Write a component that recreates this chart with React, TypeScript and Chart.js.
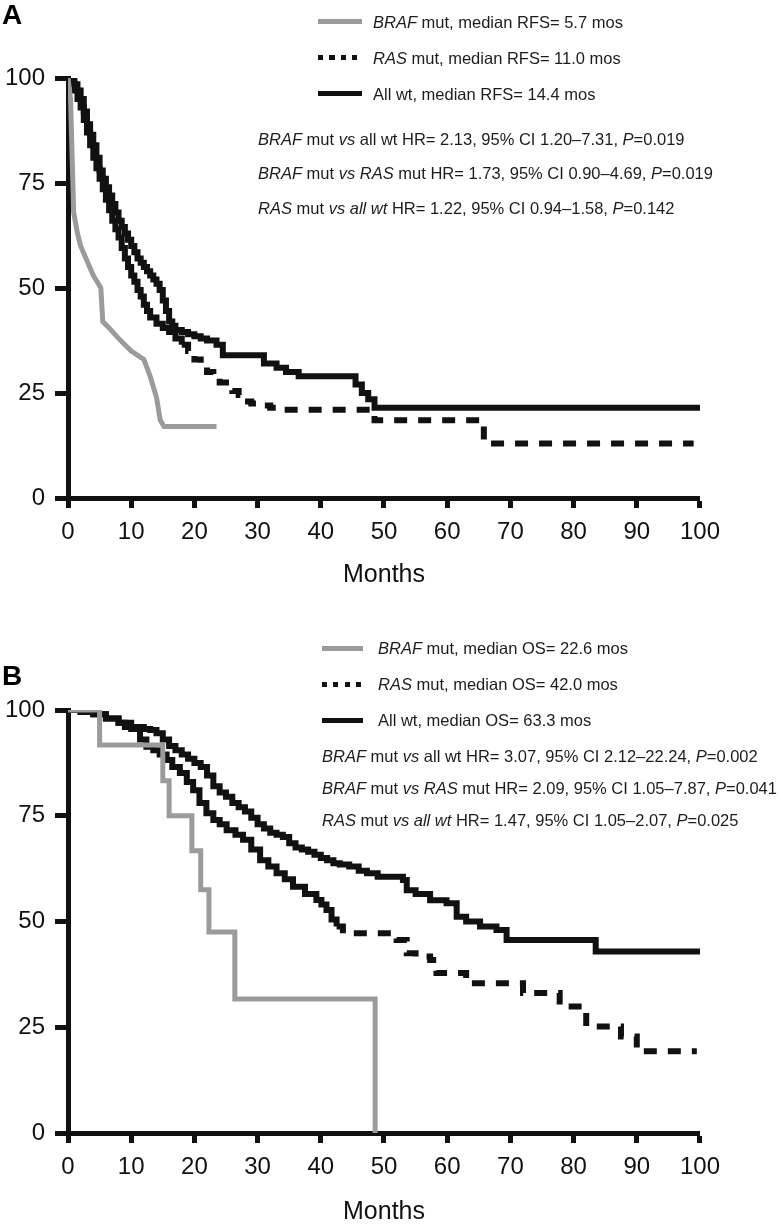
import React, { useEffect, useRef } from 'react';
import { Chart, registerables } from 'chart.js';

Chart.register(...registerables);

const FONT = '"Liberation Sans", Arial, Helvetica, sans-serif';
const GRAY = '#9b9b9b';
const INK = '#111111';

// ---------- axis ticks ----------
const monthTicks = [0, 10, 20, 30, 40, 50, 60, 70, 80, 90, 100];
const pctTicks = [0, 25, 50, 75, 100];

// ---------- Panel A: relapse-free survival ----------
const rfsBrafMonths = [0, 0.4, 0.9, 1.5, 2, 3, 4, 5.2, 5.5, 6.5, 8, 10, 12, 13, 14, 14.6, 15.2, 23.5];
const rfsBrafPct = [100, 95, 68, 63, 60, 56.5, 53, 50, 42, 40.5, 38, 35, 33, 29, 24, 18.5, 17, 17];

const rfsRasMonths = [0, 0.5, 1, 1.5, 2, 2.5, 3, 3.5, 4, 4.5, 5, 5.5, 6, 6.5, 7, 7.5, 8, 8.5, 9, 9.5, 10, 10.5, 11, 11.5, 12, 12.5, 13, 14, 15, 16, 17, 18, 19, 20, 21, 22, 23, 24, 25, 26, 27, 28, 29, 30, 32, 34, 48.5, 65.8, 99];
const rfsRasPct = [100, 99, 97, 95, 93, 90, 87, 84, 81, 78.5, 76, 73.5, 71, 68.5, 66, 64, 62, 59.5, 57, 55, 53, 51.5, 49.5, 48, 46, 44.5, 43, 41.5, 40.5, 39.5, 38, 36.5, 35, 33, 31.5, 30, 28.5, 27.5, 26.5, 25.5, 24.5, 23, 22.5, 22, 21.5, 21, 18.5, 13, 13];

const rfsWtMonths = [0, 0.5, 1, 1.5, 2, 2.5, 3, 3.5, 4, 4.5, 5, 5.5, 6, 6.5, 7, 7.5, 8, 8.5, 9, 9.5, 10, 10.5, 11, 11.5, 12, 12.5, 13, 13.5, 14, 14.5, 15, 15.5, 16, 16.5, 17, 18, 19, 20, 21, 22, 23.5, 24.5, 31, 33, 34.5, 36.5, 45.5, 46.5, 47.5, 48.5, 100];
const rfsWtPct = [100, 99.5, 98.5, 97, 95, 92, 89, 86.5, 84, 81, 78, 76, 74, 72, 70, 68, 66, 64.5, 63, 61.5, 60, 58.5, 57, 56, 55, 54, 53, 52, 51, 49.5, 47, 44.5, 42, 41, 40, 39.5, 39, 38.5, 38, 37.5, 36.5, 34, 32, 31, 30, 29, 27, 25, 23.5, 21.5, 21.5];

// ---------- Panel B: overall survival ----------
const osBrafMonths = [0, 5, 15, 16, 19.6, 21, 22.3, 26.4, 48.6];
const osBrafPct = [100, 91.7, 83.3, 75, 66.7, 57.5, 47.5, 31.7, 0];

const osRasMonths = [0, 2, 4, 6, 8, 10, 11.4, 12.4, 13.5, 14.5, 15.6, 16.5, 17.7, 18.8, 19.8, 20.8, 21.9, 23, 24, 25.1, 26.5, 27.7, 29, 30.4, 31.7, 33, 34.3, 35.6, 37.5, 39.3, 40.1, 40.9, 41.7, 42.5, 43.5, 52, 53.6, 55, 57.3, 58.3, 63, 72, 77.8, 82, 87.5, 90, 99.5];
const osRasPct = [100, 99.5, 99, 98, 97, 95.5, 93, 91.3, 90.5, 89.5, 88.2, 86.5, 85.1, 83, 81, 78, 75.6, 74, 73, 71.6, 70.5, 69.3, 67, 64.5, 63, 61.4, 60, 58.2, 56.5, 55.1, 54, 52.7, 50.5, 48.8, 47.2, 45.6, 42.5, 41.7, 40.9, 37.8, 35.4, 33.1, 29.9, 25.2, 22.8, 19.3, 19.3];

const osWtMonths = [0, 2, 4, 6, 8, 9, 12, 13, 14, 15, 16, 17, 18, 19, 20, 21, 22, 23, 24, 25, 26, 27, 28, 29, 30, 31, 32, 33, 34, 35, 36, 37, 38, 39, 40, 41, 42, 43, 44.5, 46, 47.3, 49, 53, 53.6, 55, 57.3, 59.9, 61.5, 63, 65.2, 67.8, 69.4, 83.5, 100];
const osWtPct = [100, 99.5, 99, 98, 97, 96, 95.5, 95.3, 94.5, 93, 91.5, 90.5, 89.5, 88.5, 87.5, 86.5, 84.5, 82, 80.5, 79.5, 78, 77, 76, 74.5, 73, 72, 71, 70.5, 70, 68.5, 67.5, 67, 66.5, 65.8, 65, 64.5, 63.8, 63.5, 63, 62, 61.4, 60.6, 59.8, 57.4, 56.5, 55, 54.3, 51.1, 50, 48.8, 48, 45.6, 42.9, 42.9];

// ---------- texts ----------
type Part = [string, boolean];
const rfsLegendLabels: Part[][] = [
  [['BRAF', true], [' mut, median RFS= 5.7 mos', false]],
  [['RAS', true], [' mut, median RFS= 11.0 mos', false]],
  [['All wt, median RFS= 14.4 mos', false]],
];
const rfsStatLines: Part[][] = [
  [['BRAF', true], [' mut ', false], ['vs', true], [' all wt HR= 2.13, 95% CI 1.20\u20137.31, ', false], ['P', true], ['=0.019', false]],
  [['BRAF', true], [' mut ', false], ['vs', true], [' ', false], ['RAS', true], [' mut HR= 1.73, 95% CI 0.90\u20134.69, ', false], ['P', true], ['=0.019', false]],
  [['RAS', true], [' mut ', false], ['vs all wt', true], [' HR= 1.22, 95% CI 0.94\u20131.58, ', false], ['P', true], ['=0.142', false]],
];
const osLegendLabels: Part[][] = [
  [['BRAF', true], [' mut, median OS= 22.6 mos', false]],
  [['RAS', true], [' mut, median OS= 42.0 mos', false]],
  [['All wt, median OS= 63.3 mos', false]],
];
const osStatLines: Part[][] = [
  [['BRAF', true], [' mut ', false], ['vs', true], [' all wt HR= 3.07, 95% CI 2.12\u201322.24, ', false], ['P', true], ['=0.002', false]],
  [['BRAF', true], [' mut ', false], ['vs', true], [' ', false], ['RAS', true], [' mut HR= 2.09, 95% CI 1.05\u20137.87, ', false], ['P', true], ['=0.041', false]],
  [['RAS', true], [' mut ', false], ['vs all wt', true], [' HR= 1.47, 95% CI 1.05\u20132.07, ', false], ['P', true], ['=0.025', false]],
];

function pts(xs: number[], ys: number[]) {
  return xs.map((x, i) => ({ x, y: ys[i] }));
}

interface PanelSpec {
  braf: { x: number; y: number }[];
  ras: { x: number; y: number }[];
  wt: { x: number; y: number }[];
  brafStepped: boolean;
  dashFrom: number;
  padTop: number;
  xHeight: number;
  titlePad: number;
}

function makeConfig(p: PanelSpec): any {
  const dash = [13, 11];
  return {
    type: 'line',
    data: {
      datasets: [
        {
          label: 'BRAF mut',
          data: p.braf,
          borderColor: GRAY,
          borderWidth: 5,
          stepped: p.brafStepped ? 'before' : false,
          tension: 0,
          pointRadius: 0,
          borderJoinStyle: 'miter',
        },
        {
          label: 'RAS mut',
          data: p.ras,
          borderColor: INK,
          borderWidth: 6,
          stepped: 'before',
          pointRadius: 0,
          borderCapStyle: 'butt',
          borderJoinStyle: 'miter',
          segment: {
            borderDash: (ctx: any) => (ctx.p0.parsed.x >= p.dashFrom ? dash : undefined),
          },
        },
        {
          label: 'All wt',
          data: p.wt,
          borderColor: INK,
          borderWidth: 6,
          stepped: 'before',
          pointRadius: 0,
          borderJoinStyle: 'miter',
        },
      ],
    },
    options: {
      animation: false,
      responsive: false,
      maintainAspectRatio: false,
      devicePixelRatio: 1,
      layout: { padding: { top: p.padTop, right: 30, left: 0, bottom: 0 } },
      plugins: { legend: { display: false }, tooltip: { enabled: false }, title: { display: false } },
      scales: {
        x: {
          type: 'linear',
          min: 0,
          max: 100,
          afterBuildTicks: (s: any) => {
            s.ticks = monthTicks.map((v) => ({ value: v }));
          },
          afterFit: (s: any) => {
            s.height = p.xHeight;
          },
          grid: { drawOnChartArea: false, drawTicks: true, tickLength: 10, tickWidth: 5, tickColor: INK },
          border: { display: true, width: 5, color: INK },
          ticks: { color: INK, font: { family: FONT, size: 24 }, padding: 10, maxRotation: 0, autoSkip: false },
          title: {
            display: true,
            text: 'Months',
            color: INK,
            font: { family: FONT, size: 25 },
            padding: { top: 0, bottom: p.titlePad },
          },
        },
        y: {
          type: 'linear',
          min: 0,
          max: 100,
          afterBuildTicks: (s: any) => {
            s.ticks = pctTicks.map((v) => ({ value: v }));
          },
          afterFit: (s: any) => {
            s.width = 68;
          },
          grid: { drawOnChartArea: false, drawTicks: true, tickLength: 13, tickWidth: 5, tickColor: INK },
          border: { display: true, width: 5, color: INK },
          ticks: { color: INK, font: { family: FONT, size: 24 }, padding: 10, autoSkip: false },
        },
      },
    },
  };
}

function KMCanvas({ spec, top, width, height }: { spec: PanelSpec; top: number; width: number; height: number }) {
  const ref = useRef<HTMLCanvasElement | null>(null);
  useEffect(() => {
    if (!ref.current) return;
    const chart = new Chart(ref.current, makeConfig(spec));
    return () => chart.destroy();
  }, []);
  return (
    <canvas
      ref={ref}
      width={width}
      height={height}
      style={{ position: 'absolute', left: 0, top, width, height, display: 'block' }}
    />
  );
}

function TextRow({ parts, left, cy, size = 16.5 }: { parts: Part[]; left: number; cy: number; size?: number }) {
  const lh = 20;
  return (
    <div
      style={{
        position: 'absolute',
        left,
        top: cy - lh / 2,
        height: lh,
        lineHeight: lh + 'px',
        fontFamily: FONT,
        fontSize: size,
        color: '#1c1c1c',
        whiteSpace: 'nowrap',
      }}
    >
      {parts.map((pt, i) => (
        <span key={i} style={{ fontStyle: pt[1] ? 'italic' : 'normal' }}>
          {pt[0]}
        </span>
      ))}
    </div>
  );
}

function Swatch({ kind, left, cy, width }: { kind: 'gray' | 'dot' | 'solid'; left: number; cy: number; width: number }) {
  const h = 5;
  let bg = INK;
  if (kind === 'gray') bg = GRAY;
  if (kind === 'dot') bg = `repeating-linear-gradient(to right, ${INK} 0px, ${INK} 5px, transparent 5px, transparent 11.5px)`;
  return <div style={{ position: 'absolute', left, top: cy - h / 2, width, height: h, background: bg }} />;
}

function PanelLabel({ text, top }: { text: string; top: number }) {
  return (
    <div
      style={{
        position: 'absolute',
        left: 2,
        top,
        fontFamily: FONT,
        fontWeight: 'bold',
        fontSize: 28,
        lineHeight: '28px',
        color: '#000',
      }}
    >
      {text}
    </div>
  );
}

export default function App() {
  const specA: PanelSpec = {
    braf: pts(rfsBrafMonths, rfsBrafPct),
    ras: pts(rfsRasMonths, rfsRasPct),
    wt: pts(rfsWtMonths, rfsWtPct),
    brafStepped: false,
    dashFrom: 18,
    padTop: 78,
    xHeight: 97,
    titlePad: 5,
  };
  const specB: PanelSpec = {
    braf: pts(osBrafMonths, osBrafPct),
    ras: pts(osRasMonths, osRasPct),
    wt: pts(osWtMonths, osWtPct),
    brafStepped: true,
    dashFrom: 42,
    padTop: 110,
    xHeight: 95,
    titlePad: 1,
  };
  const kinds: ('gray' | 'dot' | 'solid')[] = ['gray', 'dot', 'solid'];
  const aLegendY = [22, 58, 94];
  const aStatY = [139, 173, 208];
  const bLegendY = [648, 684, 720];
  const bStatY = [756, 788, 820];
  return (
    <div style={{ position: 'absolute', left: 0, top: 0, width: 783, height: 1228, background: '#fff', overflow: 'hidden' }}>
      <KMCanvas spec={specA} top={0} width={730} height={595} />
      <KMCanvas spec={specB} top={600} width={730} height={628} />
      <PanelLabel text="A" top={1} />
      <PanelLabel text="B" top={662} />
      {rfsLegendLabels.map((p, i) => (
        <React.Fragment key={'al' + i}>
          <Swatch kind={kinds[i]} left={318} cy={aLegendY[i] - 1} width={44} />
          <TextRow parts={p} left={373} cy={aLegendY[i]} />
        </React.Fragment>
      ))}
      {rfsStatLines.map((p, i) => (
        <TextRow key={'as' + i} parts={p} left={258} cy={aStatY[i]} />
      ))}
      {osLegendLabels.map((p, i) => (
        <React.Fragment key={'bl' + i}>
          <Swatch kind={kinds[i]} left={322} cy={bLegendY[i]} width={41} />
          <TextRow parts={p} left={378} cy={bLegendY[i]} />
        </React.Fragment>
      ))}
      {osStatLines.map((p, i) => (
        <TextRow key={'bs' + i} parts={p} left={322} cy={bStatY[i]} />
      ))}
    </div>
  );
}
